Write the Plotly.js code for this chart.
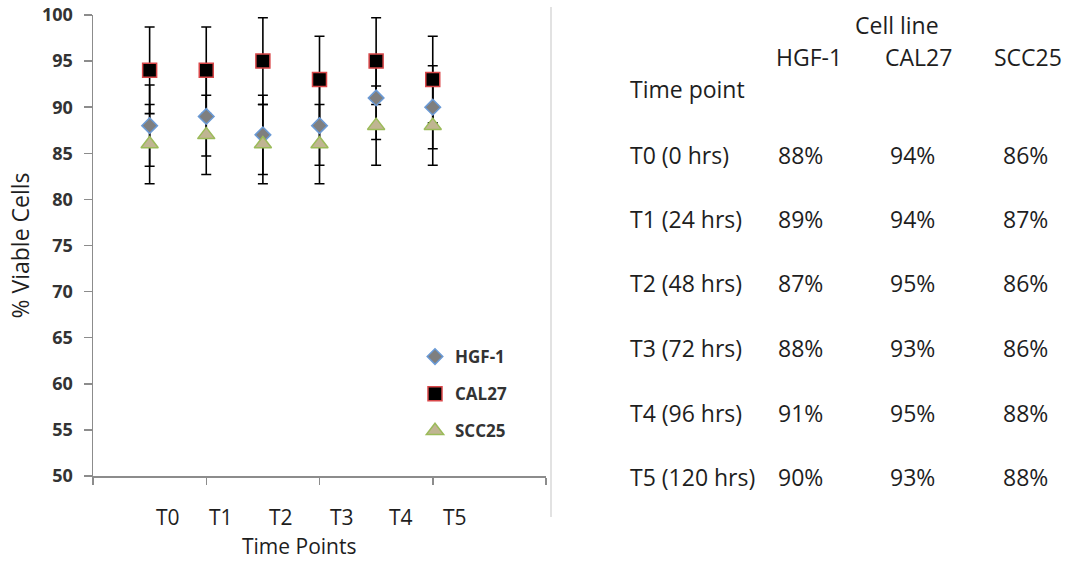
<!DOCTYPE html>
<html>
<head>
<meta charset="utf-8">
<script src="https://cdn.plot.ly/plotly-3.0.1.min.js"></script>
<style>
  html, body { margin: 0; padding: 0; background: #ffffff; }
  #chart { width: 1067px; height: 564px; }
</style>
</head>
<body>
<div id="chart"></div>
<script>
// ---------------- data ----------------
const timePoints = ['T0', 'T1', 'T2', 'T3', 'T4', 'T5'];
const hours = [0, 24, 48, 72, 96, 120];
const xIndex = [1, 2, 3, 4, 5, 6];
const seriesNames = ['HGF-1', 'CAL27', 'SCC25'];
const hgf1 = [88, 89, 87, 88, 91, 90];
const cal27 = [94, 94, 95, 93, 95, 93];
const scc25 = [86, 87, 86, 86, 88, 88];
const hgf1Err = [4.4, 4.3, 4.3, 4.3, 4.5, 4.5];
const cal27Err = [4.7, 4.7, 4.7, 4.7, 4.7, 4.7];
const scc25Err = [4.3, 4.3, 4.3, 4.3, 4.3, 4.3];
const yTickVals = [50, 55, 60, 65, 70, 75, 80, 85, 90, 95, 100];

// ---------------- geometry helpers (pixels -> paper) ----------------
const W = 1067, H = 564;
const M = { l: 93, r: 521, t: 15, b: 88 };
const plotW = W - M.l - M.r, plotH = H - M.t - M.b;
const px = x => (x - M.l) / plotW;
const py = y => (H - M.b - y) / plotH;

const FONT = '"Open Sans", "Liberation Sans", sans-serif';
const TXT = '#1e1e1e';

const series = [
  { name: seriesNames[0], y: hgf1, err: hgf1Err,
    marker: { symbol: 'diamond', size: 12, color: '#7f7f7f', line: { color: '#6a9ad6', width: 1.5 } } },
  { name: seriesNames[1], y: cal27, err: cal27Err,
    marker: { symbol: 'square', size: 14, color: '#000000', line: { color: '#d9484a', width: 1.5 } } },
  { name: seriesNames[2], y: scc25, err: scc25Err,
    marker: { symbol: 'triangle-up', size: 15, color: '#c0b592', line: { color: '#9bbb59', width: 1.5 } } }
];

const traces = [];
// error bars first (below all markers)
series.forEach(s => {
  traces.push({
    type: 'scatter', mode: 'markers', x: xIndex, y: s.y,
    marker: { size: 2, opacity: 0 },
    error_y: { type: 'data', array: s.err, visible: true, color: '#000000', thickness: 1.6, width: 5 },
    showlegend: false, hoverinfo: 'skip'
  });
});
// markers on top
series.forEach((s, i) => {
  traces.push({
    type: 'scatter', mode: 'markers', x: xIndex, y: s.y, name: s.name,
    marker: s.marker, legendgroup: 'g' + i, showlegend: true
  });
});

// ---------------- annotations ----------------
const annotations = [];
// category labels under the x axis
const catLabelX = [1.32, 2.26, 3.32, 4.4, 5.44, 6.4];
timePoints.forEach((t, i) => {
  annotations.push({ xref: 'x', yref: 'paper', x: catLabelX[i], y: py(517), text: t,
    showarrow: false, xanchor: 'center', yanchor: 'middle', font: { family: FONT, size: 21, color: TXT } });
});
// x-axis title
annotations.push({ xref: 'paper', yref: 'paper', x: px(299), y: py(546), text: 'Time Points',
  showarrow: false, xanchor: 'center', yanchor: 'middle', font: { family: FONT, size: 21, color: TXT } });

// table on the right
const TF = { family: FONT, size: 23, color: TXT };
annotations.push({ xref: 'paper', yref: 'paper', x: px(897), y: py(25), text: 'Cell line',
  showarrow: false, xanchor: 'center', yanchor: 'middle', font: TF });
const headX = [809, 918, 1028];
seriesNames.forEach((n, i) => {
  annotations.push({ xref: 'paper', yref: 'paper', x: px(headX[i]), y: py(57), text: n,
    showarrow: false, xanchor: 'center', yanchor: 'middle', font: TF });
});
annotations.push({ xref: 'paper', yref: 'paper', x: px(628), y: py(89), text: 'Time point',
  showarrow: false, xanchor: 'left', yanchor: 'middle', font: TF });
const rowY = [155, 219, 283, 348, 413, 477];
const colX = [800, 912, 1025];
const allSeries = [hgf1, cal27, scc25];
timePoints.forEach((t, r) => {
  annotations.push({ xref: 'paper', yref: 'paper', x: px(628), y: py(rowY[r]), text: t + ' (' + hours[r] + ' hrs)',
    showarrow: false, xanchor: 'left', yanchor: 'middle', font: TF });
  allSeries.forEach((s, c) => {
    annotations.push({ xref: 'paper', yref: 'paper', x: px(colX[c]), y: py(rowY[r]), text: s[r] + '%',
      showarrow: false, xanchor: 'center', yanchor: 'middle', font: TF });
  });
});

const layout = {
  width: W, height: H,
  margin: M,
  paper_bgcolor: '#ffffff', plot_bgcolor: '#ffffff',
  showlegend: true,
  legend: {
    x: px(415), y: py(339), xanchor: 'left', yanchor: 'top',
    bgcolor: 'rgba(0,0,0,0)', traceorder: 'grouped', tracegroupgap: 12,
    font: { family: FONT, size: 17, color: '#333333', weight: 'bold' }
  },
  xaxis: {
    range: [0, 8], tickvals: [0, 2, 4, 6, 8], showticklabels: false,
    ticks: 'outside', ticklen: 7, tickwidth: 1.5, tickcolor: '#8c8c8c',
    showline: true, linecolor: '#8c8c8c', linewidth: 1.5,
    showgrid: false, zeroline: false, fixedrange: true
  },
  yaxis: {
    range: [50, 100], tickvals: yTickVals,
    ticks: 'outside', ticklen: 8, tickwidth: 1.5, tickcolor: '#8c8c8c',
    ticklabelstandoff: 7,
    tickfont: { family: FONT, size: 18, color: '#333333', weight: 'bold' },
    showline: true, linecolor: '#8c8c8c', linewidth: 1.5,
    showgrid: false, zeroline: false, fixedrange: true,
    title: { text: '% Viable Cells', standoff: 6, font: { family: FONT, size: 23, color: TXT } }
  },
  shapes: [
    { type: 'line', xref: 'paper', yref: 'paper', x0: px(551), x1: px(551), y0: py(7), y1: py(517),
      line: { color: '#d9d9d9', width: 1.5 } }
  ],
  annotations: annotations
};

Plotly.newPlot('chart', traces, layout, { displayModeBar: false, staticPlot: true });
</script>
</body>
</html>
